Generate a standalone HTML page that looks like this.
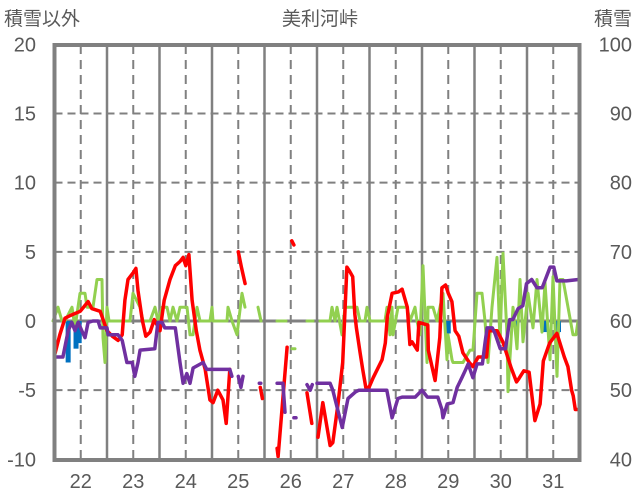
<!DOCTYPE html>
<html><head><meta charset="utf-8">
<style>
html,body{margin:0;padding:0;background:#fff;}
svg{display:block;font-family:"Liberation Sans","Noto Sans CJK JP",sans-serif;}
</style></head>
<body>
<svg id="chart" width="636" height="501" viewBox="0 0 636 501" xmlns="http://www.w3.org/2000/svg">
<text x="320" y="25" text-anchor="middle" font-size="19" fill="#595959">美利河峠</text>
<text x="4" y="25" font-size="19" fill="#595959">積雪以外</text>
<text x="632" y="25" text-anchor="end" font-size="19" fill="#595959">積雪</text>
<g id="grid"></g>
<g id="series"></g>
<rect x="54.5" y="45" width="525" height="415" fill="none" stroke="#808080" stroke-width="4"/>
<g id="axes"></g>
</svg>
<script>
const dayLabels = ["22","23","24","25","26","27","28","29","30","31"];
const leftTicks = [20,15,10,5,0,-5,-10];
const rightTicks = [100,90,80,70,60,50,40];

const redT = [0,.10,.20,.30,.49,.64,.71,.87,1.0,1.10,1.21,1.29,1.34,1.40,1.50,1.55,1.59,1.67,1.74,1.82,1.90,2.01,2.09,2.20,2.30,2.39,2.45,2.50,2.56,2.62,2.70,2.77,2.87,2.96,3.02,3.11,3.21,3.27,3.34,null,3.50,3.56,3.63,null,3.92,3.96,null,4.24,4.26,4.43,null,4.52,4.56,null,4.81,4.90,null,5.02,5.11,5.25,5.30,5.40,5.49,5.57,5.62,5.68,5.72,5.75,5.82,5.87,5.93,5.99,6.07,6.24,6.30,6.34,6.43,6.55,6.62,6.72,6.77,6.81,6.91,6.94,7.11,7.12,7.25,7.34,7.38,7.45,7.50,7.57,7.63,7.70,7.78,7.90,7.97,8.07,8.23,8.27,8.43,8.54,8.70,8.80,8.84,8.94,9.04,9.15,9.25,9.31,9.43,9.57,9.71,9.78,9.85,9.88,9.92,9.98];
const redV = [-2.5,-1.0,.2,.4,.7,1.4,.9,.7,-.7,-1.1,-1.4,-1.0,1.5,3.0,3.5,3.8,2.2,.1,-1.1,-.8,.1,-.7,1.5,3.0,4.0,4.3,4.6,4.0,4.8,1.5,-.7,-2.1,-3.5,-5.7,-5.9,-5.0,-5.7,-7.4,-3.5,null,5.0,3.9,2.7,null,-4.8,-5.6,null,-9.2,-9.8,-1.9,null,5.8,5.5,null,-5.2,-7.4,null,-8.4,-5.9,-9.0,-8.8,-6.0,-3.0,3.9,3.6,3.2,.5,-.5,-2.3,-3.5,-4.8,-4.8,-4.1,-2.8,-1.6,.3,2.0,2.1,2.3,1.0,-1.7,-1.5,-2.1,-.1,-.3,-2.1,-4.3,-1.2,2.4,2.6,2.0,1.4,-.7,-1.1,-2.3,-3.0,-3.3,-2.6,-2.6,-.7,-.7,-1.5,-3.4,-4.4,-4.2,-3.6,-3.7,-7.2,-6.0,-2.9,-1.6,-.9,-2.6,-3.3,-5.0,-5.4,-6.4,-6.4];

const purpleT = [0,.16,.26,.33,.39,.45,.52,.58,.64,.73,.83,.87,1.0,1.02,1.21,1.29,1.38,1.48,1.53,1.59,1.63,1.91,1.97,2.05,2.10,2.30,2.39,2.45,2.52,2.58,2.64,2.83,2.90,3.02,3.34,3.38,null,3.50,3.55,3.59,null,3.90,3.93,null,4.24,4.35,4.39,null,4.56,4.60,null,4.81,4.87,4.91,null,5.00,5.25,5.30,5.48,5.59,5.74,5.80,6.33,6.43,6.54,6.62,6.87,7.00,7.10,7.30,7.38,7.40,7.48,7.59,7.67,7.76,7.82,7.88,7.97,8.05,8.15,8.20,8.24,8.34,8.39,8.49,8.59,8.67,8.73,8.83,8.92,8.99,9.09,9.19,9.29,9.44,9.51,9.57,9.75,9.98];
const purpleV = [-2.6,-2.6,-.7,-.1,-.7,-.1,-.7,-1.2,-.1,0,0,-.5,-.5,-1.0,-1.0,-1.4,-3.0,-3.0,-4.0,-3.0,-2.1,-2.0,-.1,-.1,-.5,-.5,-3.0,-4.5,-3.8,-4.5,-3.4,-3.0,-3.5,-3.5,-3.5,-4.0,null,-4.0,-4.8,-4.0,null,-4.5,-4.5,null,-4.5,-4.5,-6.6,null,-7.0,-7.0,null,-4.6,-5.0,-4.6,null,-4.5,-4.5,-5.0,-7.7,-5.6,-5.1,-5.0,-5.0,-7.0,-5.6,-5.5,-5.5,-5.0,-5.5,-5.5,-6.4,-7.0,-6.0,-5.9,-4.8,-4.1,-3.6,-3.1,-4.1,-3.1,-3.1,-1.6,-.5,-.5,-.9,-2.0,-2.0,.1,.1,.9,1.1,2.7,3.0,2.4,2.4,3.9,3.9,2.9,2.9,3.0];

const greenX = [53,58,62,65,72,75,80,85,87,93,97,102,103,105,107,109,130,133,140,143,150,155,158,162,167,170,173,177,180,187,190,193,197,200,210,212,213,227,228,232,237,242,245,null,258,261,null,277,286,null,292,295,null,307,313,null,320,330,332,335,337,342,345,357,360,365,367,370,385,387,390,392,393,398,407,410,415,417,420,423,427,428,433,437,443,447,448,452,453,463,470,473,477,482,485,488,492,497,500,503,507,508,513,517,520,523,528,533,537,542,545,550,553,557,560,563,573,576,578];
const greenV = [0,1,0,0,1,-.5,2,2,1,1,3,3,-1.2,-3,1,0,0,2,1,0,0,1,0,1,1,0,1,0,1,1,-1,-1,1,0,0,1,0,0,1,0,-1,2,1,null,1,0,null,0,0,null,-2,-2,null,0,0,null,0,0,1,0,1,-1,1,1,0,0,1,0,0,1,-1,1,-1,1,1,0,1,0,-1,4,-3,1,1,0,2,-2.8,-1,-2.8,-3,-3,-2.1,-2.1,2,2,0,-3,1,4.6,-1.5,4.9,-1,-5.1,1,-2,3,-1.5,2,-.5,3,-.8,2.8,-2.8,3.2,-4,3,3,-1,-1,0];

const blueT = [.26,.41,.47,7.50,8.80,9.36,9.60];
const blueV = [-3.0,-2.0,-1.6,-.9,-.5,-.8,-.8];

const X0=54.5, DW=52.5, Y0=321, PU=415/30, BOT=460, TOP=45;
const x = t => X0 + t*DW;
const y = v => Y0 - v*PU;
const NS = "http://www.w3.org/2000/svg";
function mk(tag, parent, attrs){const e=document.createElementNS(NS,tag);for(const k in attrs)e.setAttribute(k,attrs[k]);parent.appendChild(e);return e;}
const grid=document.getElementById('grid'), ser=document.getElementById('series'), axes=document.getElementById('axes');

leftTicks.forEach(v=>{
  if(v===20||v===-10) return;
  const l=mk('line',grid,{x1:X0,x2:X0+10*DW,y1:y(v),y2:y(v),stroke:'#808080','stroke-width':v===0?3:2,'stroke-dasharray':v===0?'none':'8,5'});
  
  
});
for(let d=0; d<=10; d++){
  if(d>0 && d<10){
    const l=mk('line',grid,{x1:x(d),x2:x(d),y1:TOP,y2:BOT,stroke:'#808080','stroke-width':2.5});
    
    
  }
  if(d<10){
    const l=mk('line',grid,{x1:x(d+.5),x2:x(d+.5),y1:TOP,y2:BOT,stroke:'#808080','stroke-width':2,'stroke-dasharray':'9,6'});
    
    
  }
}
dayLabels.forEach((s,i)=>{
  const t=mk('text',axes,{x:x(i+.5),y:488,'text-anchor':'middle','font-size':20,fill:'#595959'});
  t.textContent=s;
  
  
});
leftTicks.forEach(v=>{
  const t=mk('text',axes,{x:36,y:y(v)+7,'text-anchor':'end','font-size':20,fill:'#595959'});
  t.textContent=v;
  
  
});
rightTicks.forEach(v=>{
  const t=mk('text',axes,{x:632,y:y((v-60)/2)+7,'text-anchor':'end','font-size':20,fill:'#595959'});
  t.textContent=v;
  
  
});

blueT.forEach((t,i)=>{
  const r=mk('rect',ser,{x:x(t)-2.5,y:Y0,width:5,height:Math.abs(y(blueV[i])-Y0),fill:'#0070c0'});
  
  
});
function pathFrom(xs, vs){
  let d='', pen=false;
  for(let i=0;i<xs.length;i++){
    if(xs[i]===null||vs[i]===null){pen=false;continue;}
    d += (pen?'L':'M') + xs[i].toFixed(1)+','+y(vs[i]).toFixed(1)+' ';
    pen=true;
  }
  return d;
}
const g=mk('path',ser,{d:pathFrom(greenX,greenV),fill:'none',stroke:'#92d050','stroke-width':3,'stroke-linejoin':'round','stroke-linecap':'round'});


const r=mk('path',ser,{d:pathFrom(redT.map(t=>t===null?null:x(t)),redV),fill:'none',stroke:'#ff0000','stroke-width':3.5,'stroke-linejoin':'round','stroke-linecap':'round'});


const p=mk('path',ser,{d:pathFrom(purpleT.map(t=>t===null?null:x(t)),purpleV),fill:'none',stroke:'#7030a0','stroke-width':3.5,'stroke-linejoin':'round','stroke-linecap':'round'});


</script>
</body></html>
